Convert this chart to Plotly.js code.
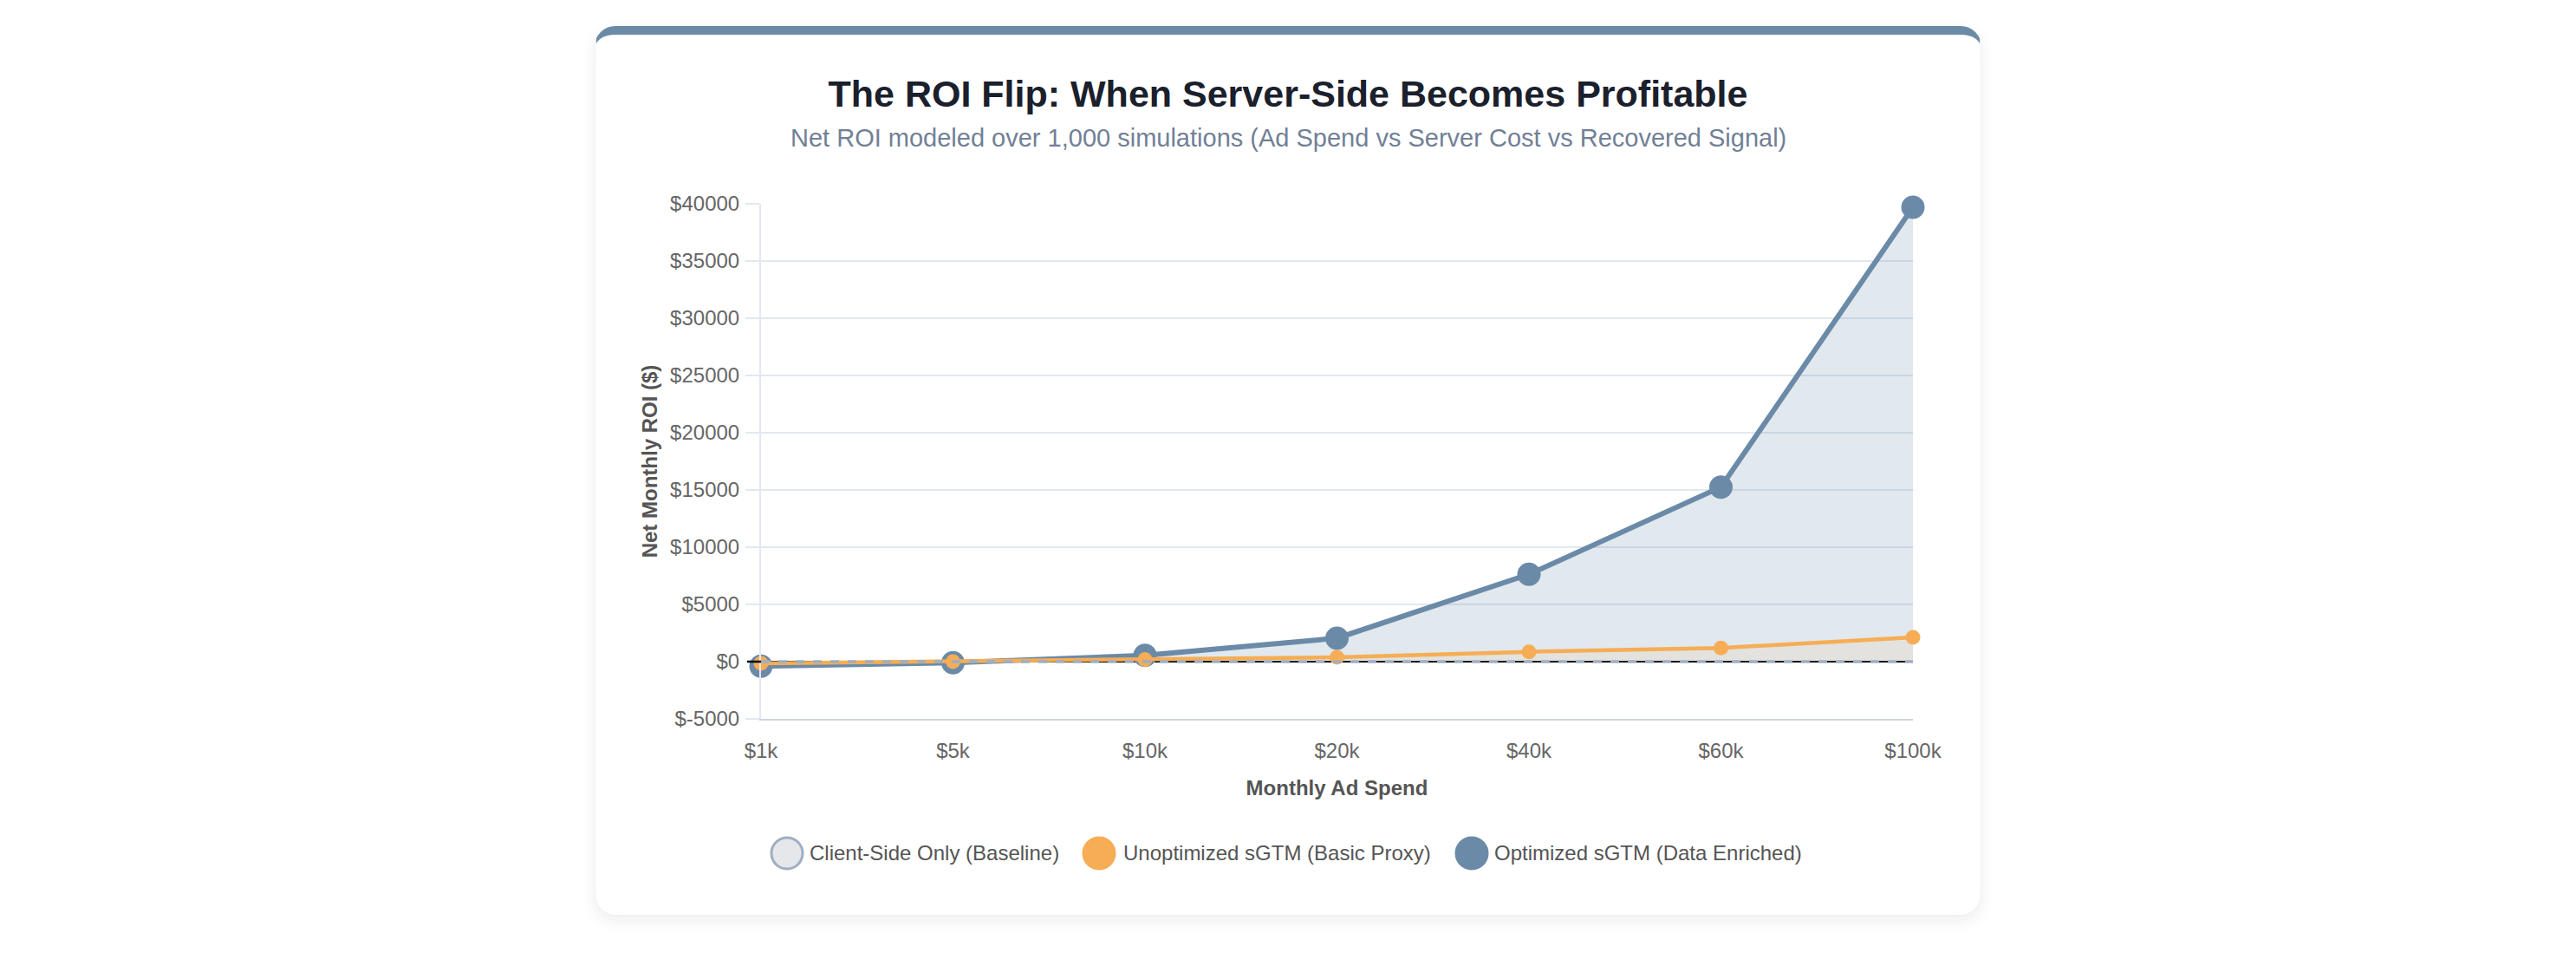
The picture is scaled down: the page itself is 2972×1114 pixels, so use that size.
<!DOCTYPE html>
<html>
<head>
<meta charset="utf-8">
<script src="https://cdn.plot.ly/plotly-3.0.1.min.js"></script>
<style>
  html, body { margin: 0; padding: 0; background: #ffffff; width: 2972px; height: 1114px; overflow: hidden; }
  #card {
    position: absolute; left: 686px; top: 30px; width: 1600px; height: 1026px;
    box-sizing: border-box; background: #ffffff;
    border: 1px solid #edf2f7; border-top: 10px solid #6b8aa8;
    border-radius: 24px;
    box-shadow: 0 6px 18px rgba(0,0,0,0.07);
  }
  #chart { position: absolute; left: 0; top: 0; width: 2972px; height: 1114px; }
</style>
</head>
<body>
<div id="card"></div>
<div id="chart"></div>
<script>
// ---- data ----
const categories = ['$1k', '$5k', '$10k', '$20k', '$40k', '$60k', '$100k'];
const baselineROI = [0, 0, 0, 0, 0, 0, 0];
const unoptimizedROI = [-150, 0, 180, 380, 860, 1190, 2120];
const optimizedROI = [-400, -100, 550, 2050, 7630, 15250, 39700];
const seriesNames = ['Client-Side Only (Baseline)', 'Unoptimized sGTM (Basic Proxy)', 'Optimized sGTM (Data Enriched)'];
const yTickVals = [-5000, 0, 5000, 10000, 15000, 20000, 25000, 30000, 35000, 40000];
const yTickLabels = ['$-5000', '$0', '$5000', '$10000', '$15000', '$20000', '$25000', '$30000', '$35000', '$40000'];
const chartTitle = 'The ROI Flip: When Server-Side Becomes Profitable';
const chartSubtitle = 'Net ROI modeled over 1,000 simulations (Ad Spend vs Server Cost vs Recovered Signal)';
const xTitle = 'Monthly Ad Spend';
const yTitle = 'Net Monthly ROI ($)';

// ---- layout geometry (pixels in the 2972x1114 window) ----
const W = 2972, H = 1114;
const PL = 878, PR = 2207, PT = 235, PB = 829;
const px2x = X => (X - PL) / (PR - PL);
const px2y = Y => (PB - Y) / (PB - PT);
const FONT = '"Liberation Sans", Arial, Helvetica, sans-serif';

const optimized = {
  x: categories, y: optimizedROI, name: seriesNames[2], type: 'scatter', mode: 'lines+markers',
  line: { color: '#6b8aa8', width: 6 },
  marker: { color: '#6b8aa8', size: 27 },
  fill: 'tozeroy', fillcolor: 'rgba(107,138,168,0.2)',
  cliponaxis: false, showlegend: false, hoverinfo: 'x+y'
};
const unoptimized = {
  x: categories, y: unoptimizedROI, name: seriesNames[1], type: 'scatter', mode: 'lines+markers',
  line: { color: '#f6ad55', width: 4.5 },
  marker: { color: '#f6ad55', size: 17 },
  fill: 'tozeroy', fillcolor: 'rgba(246,173,85,0.1)',
  cliponaxis: false, showlegend: false, hoverinfo: 'x+y'
};
const baseline = {
  x: categories, y: baselineROI, name: seriesNames[0], type: 'scatter', mode: 'lines',
  line: { color: '#a0aec0', width: 3.5, dash: '10px,10px' },
  cliponaxis: false, showlegend: false, hoverinfo: 'x+y'
};

// custom legend (large circles like the reference)
const legendItems = [
  { cx: 908, tx: 932, fill: '#e5e7eb', line: '#a0aec0' },
  { cx: 1268, tx: 1294, fill: '#f6ad55', line: '#f6ad55' },
  { cx: 1698, tx: 1722, fill: '#6b8aa8', line: '#6b8aa8' }
];
const LY = 984, LR = 18;
const shapes = [
  // black tick mark for $0
  { type: 'line', xref: 'paper', yref: 'y', x0: px2x(PL - 16), x1: 0, y0: 0, y1: 0,
    line: { color: '#000000', width: 2.5 } }
];
const annotations = [
  { text: chartSubtitle, xref: 'paper', yref: 'paper', x: px2x(1486), y: px2y(159),
    xanchor: 'center', yanchor: 'middle', showarrow: false,
    font: { family: FONT, size: 29, color: '#718096' } }
];
legendItems.forEach((it, i) => {
  shapes.push({ type: 'circle', xref: 'paper', yref: 'paper',
    x0: px2x(it.cx - LR), x1: px2x(it.cx + LR), y0: px2y(LY + LR), y1: px2y(LY - LR),
    fillcolor: it.fill, line: { color: it.line, width: 3 } });
  annotations.push({ text: seriesNames[i], xref: 'paper', yref: 'paper', x: px2x(it.tx), y: px2y(LY),
    xanchor: 'left', yanchor: 'middle', showarrow: false,
    font: { family: FONT, size: 24, color: '#555555' } });
});

const layout = {
  width: W, height: H,
  margin: { l: PL, r: W - PR, t: PT, b: H - PB, pad: 0 },
  paper_bgcolor: 'rgba(0,0,0,0)', plot_bgcolor: 'rgba(0,0,0,0)',
  font: { family: FONT, size: 24, color: '#666666' },
  title: { text: '<b>' + chartTitle + '</b>', xref: 'container', yref: 'container',
    x: 1486 / W, y: 1 - 108 / H, xanchor: 'center', yanchor: 'middle',
    font: { family: FONT, size: 43, color: '#1a202c' } },
  xaxis: {
    type: 'category', range: [0, categories.length - 1],
    showgrid: false, zeroline: false,
    showline: true, linecolor: '#cbd5e0', linewidth: 2,
    ticks: '', ticklabelstandoff: 14,
    tickfont: { family: FONT, size: 24, color: '#666666' },
    title: { text: '<b>' + xTitle + '</b>', standoff: 22, font: { family: FONT, size: 24, color: '#555555' } }
  },
  yaxis: {
    range: [-5000, 40000], tickvals: yTickVals, ticktext: yTickLabels,
    showgrid: true, gridcolor: '#e2e8f0', gridwidth: 2,
    zeroline: true, zerolinecolor: '#000000', zerolinewidth: 2.5,
    showline: true, linecolor: '#e2e8f0', linewidth: 2,
    ticks: 'outside', ticklen: 16, tickwidth: 2, tickcolor: '#e2e8f0',
    ticklabelstandoff: 2,
    tickfont: { family: FONT, size: 24, color: '#666666' },
    title: { text: '<b>' + yTitle + '</b>', standoff: 8, font: { family: FONT, size: 24, color: '#555555' } }
  },
  shapes: shapes,
  annotations: annotations,
  showlegend: false
};

Plotly.newPlot('chart', [optimized, unoptimized, baseline], layout, { displayModeBar: false, staticPlot: true });
</script>
</body>
</html>
